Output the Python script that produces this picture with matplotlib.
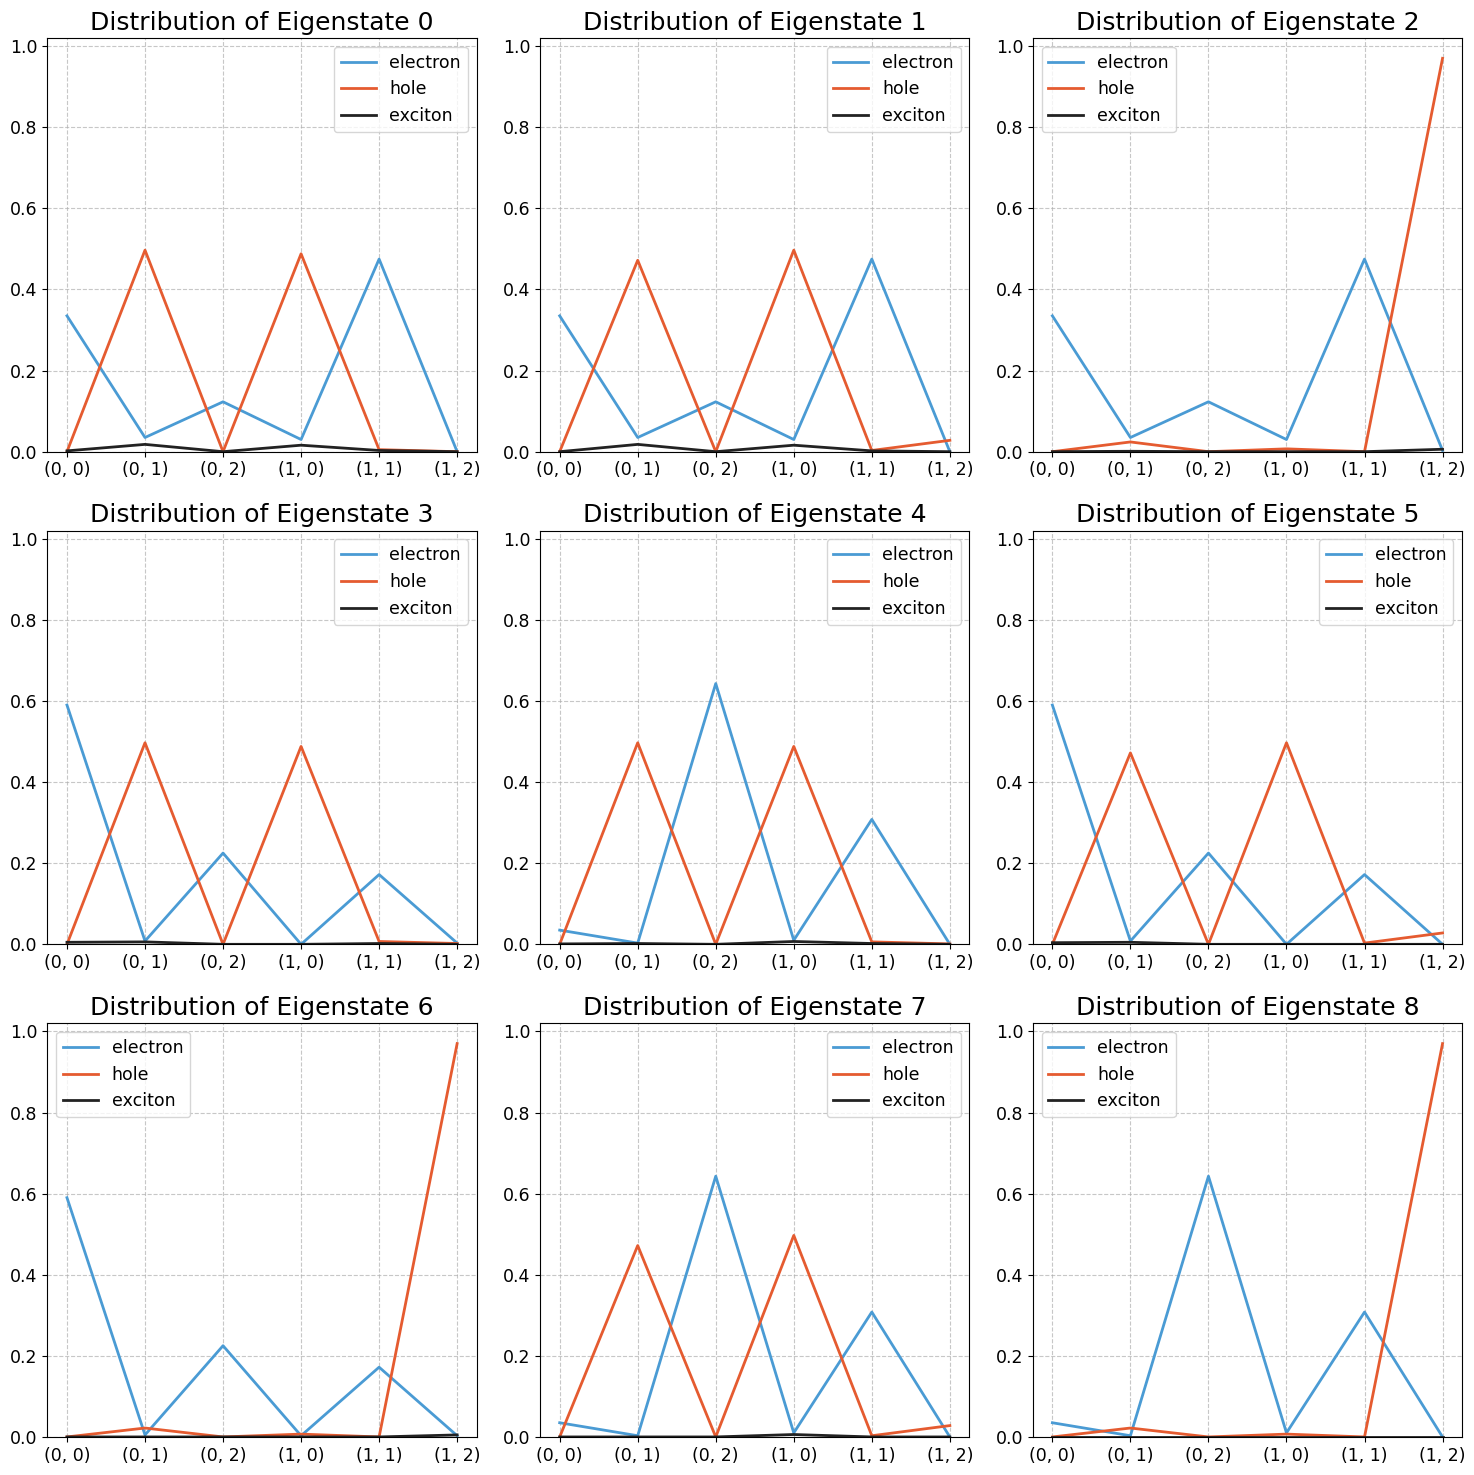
import numpy as np
import matplotlib.pyplot as plt

sites = ["(0, 0)", "(0, 1)", "(0, 2)", "(1, 0)", "(1, 1)", "(1, 2)"]

electron = [
    [0.335, 0.035, 0.123, 0.030, 0.475, 0.000],
    [0.335, 0.035, 0.123, 0.030, 0.475, 0.000],
    [0.335, 0.035, 0.123, 0.030, 0.475, 0.003],
    [0.590, 0.008, 0.225, 0.000, 0.172, 0.003],
    [0.035, 0.003, 0.643, 0.010, 0.308, 0.000],
    [0.590, 0.008, 0.225, 0.000, 0.172, 0.000],
    [0.590, 0.005, 0.225, 0.003, 0.172, 0.003],
    [0.035, 0.003, 0.643, 0.010, 0.308, 0.000],
    [0.035, 0.003, 0.643, 0.010, 0.308, 0.000],
]
hole = [
    [0.000, 0.497, 0.000, 0.488, 0.005, 0.000],
    [0.000, 0.472, 0.000, 0.497, 0.003, 0.028],
    [0.000, 0.024, 0.000, 0.007, 0.000, 0.970],
    [0.000, 0.497, 0.000, 0.488, 0.007, 0.002],
    [0.000, 0.497, 0.000, 0.488, 0.006, 0.001],
    [0.000, 0.472, 0.000, 0.497, 0.003, 0.028],
    [0.000, 0.022, 0.000, 0.007, 0.000, 0.970],
    [0.000, 0.472, 0.000, 0.497, 0.003, 0.028],
    [0.000, 0.022, 0.000, 0.007, 0.000, 0.970],
]
exciton = [
    [0.002, 0.018, 0.000, 0.016, 0.003, 0.000],
    [0.000, 0.018, 0.000, 0.016, 0.002, 0.000],
    [0.000, 0.001, 0.000, 0.000, 0.000, 0.006],
    [0.005, 0.006, 0.000, 0.000, 0.002, 0.000],
    [0.001, 0.002, 0.000, 0.007, 0.002, 0.000],
    [0.004, 0.005, 0.000, 0.000, 0.000, 0.000],
    [0.000, 0.000, 0.000, 0.000, 0.000, 0.005],
    [0.000, 0.000, 0.000, 0.006, 0.000, 0.000],
    [0.000, 0.000, 0.000, 0.000, 0.000, 0.000],
]

fig, axs = plt.subplots(3, 3, figsize=(14.74, 14.75), dpi=100)
x = np.arange(len(sites))
for i, ax in enumerate(axs.flat):
    ax.plot(x, electron[i], color="#4a9bd4", linewidth=2, label="electron")
    ax.plot(x, hole[i], color="#e55b30", linewidth=2, label="hole")
    ax.plot(x, exciton[i], color="#222222", linewidth=2, label="exciton")
    ax.set_xticks(x)
    ax.set_xticklabels(sites)
    ax.tick_params(axis="both", labelsize=12.5)
    ax.set_ylim(0, 1.02)
    ax.set_title("Distribution of Eigenstate %d" % i, fontsize=18)
    ax.grid(linestyle="--", alpha=0.7)
    ax.legend(fontsize=12.5, loc="best")

fig.subplots_adjust(left=0.0322, right=0.9919, bottom=0.0258, top=0.9742,
                    wspace=0.148, hspace=0.191)
fig.savefig("out.png")
